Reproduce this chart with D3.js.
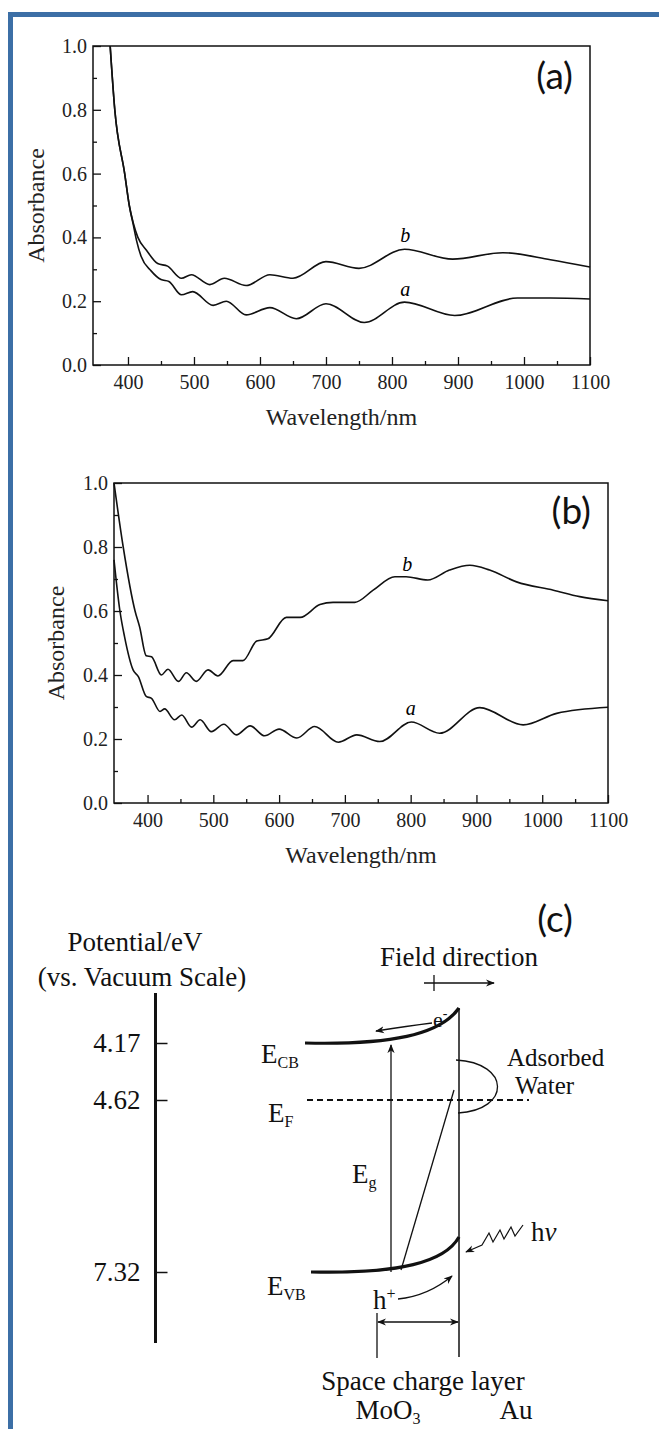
<!DOCTYPE html>
<html>
<head>
<meta charset="utf-8">
<script src="https://cdn.jsdelivr.net/npm/d3@7"></script>
<style>
  body { margin: 0; background: #fff; }
  svg { display: block; }
  text { font-family: "Liberation Serif", "DejaVu Serif", serif; }
</style>
</head>
<body>
<div id="chart"></div>
<script>
// absorbance spectra, [wavelength nm, absorbance]
var aFilmA = [[373,1.0],[380,0.8],[395,0.6],[402,0.5],[408,0.44],[413,0.39],[420,0.34],[435,0.295],[450,0.268],[462,0.262],[481,0.22],[498,0.23],[529,0.187],[549,0.2],[579,0.157],[615,0.18],[655,0.145],[700,0.192],[758,0.133],[819,0.197],[895,0.155],[990,0.21],[1040,0.21],[1100,0.207]];
var aFilmB = [[373,1.0],[380,0.8],[395,0.6],[402,0.5],[408,0.445],[415,0.4],[428,0.36],[445,0.318],[460,0.31],[481,0.272],[496,0.283],[524,0.252],[546,0.272],[579,0.249],[615,0.283],[650,0.272],[700,0.324],[750,0.303],[819,0.363],[892,0.332],[968,0.352],[1040,0.33],[1100,0.307]];

var bFilmA = [[349,0.76],[358,0.6],[365,0.52],[378,0.416],[386,0.395],[398,0.333],[406,0.327],[419,0.286],[426,0.294],[441,0.26],[452,0.275],[467,0.237],[480,0.26],[497,0.223],[516,0.246],[535,0.213],[556,0.241],[578,0.21],[600,0.231],[627,0.203],[654,0.239],[690,0.19],[718,0.213],[753,0.192],[801,0.253],[844,0.218],[905,0.298],[971,0.244],[1022,0.28],[1100,0.299]];
var bFilmB = [[349,1.0],[363,0.8],[381,0.6],[388,0.55],[398,0.46],[406,0.457],[421,0.4],[431,0.418],[447,0.38],[459,0.407],[474,0.38],[492,0.416],[507,0.397],[530,0.445],[545,0.445],[566,0.506],[583,0.513],[611,0.58],[632,0.58],[662,0.62],[682,0.627],[715,0.627],[743,0.665],[776,0.707],[793,0.707],[826,0.697],[859,0.728],[890,0.743],[920,0.728],[961,0.691],[1017,0.665],[1057,0.645],[1100,0.632]];

var wlTicks = [400, 500, 600, 700, 800, 900, 1000, 1100];
var wlMinor = [450, 550, 650, 750, 850, 950, 1050];
var absTicks = [0, 0.2, 0.4, 0.6, 0.8, 1.0];
var absMinor = [0.1, 0.3, 0.5, 0.7, 0.9];

// potential levels of the band diagram (eV vs vacuum)
var levels = [4.17, 4.62, 7.32];

var W = 659, H = 1429;
var serif = "'Liberation Serif', 'DejaVu Serif', serif";
var sans = "Lato, 'Open Sans', sans-serif";

var svg = d3.select("#chart").append("svg")
  .attr("width", W).attr("height", H);

svg.append("rect").attr("width", W).attr("height", H).attr("fill", "#fff");

// blue frame (top and left)
svg.append("rect").attr("x", 8).attr("y", 12).attr("width", W - 8).attr("height", 5).attr("fill", "#3c6fa6");
svg.append("rect").attr("x", 8).attr("y", 12).attr("width", 5).attr("height", H - 12).attr("fill", "#3c6fa6");

var defs = svg.append("defs");
defs.append("marker")
  .attr("id", "head")
  .attr("viewBox", "0 0 10 10")
  .attr("refX", 9).attr("refY", 5)
  .attr("markerWidth", 9).attr("markerHeight", 9)
  .attr("markerUnits", "userSpaceOnUse")
  .attr("orient", "auto-start-reverse")
  .append("path").attr("d", "M0,1 L10,5 L0,9 L3,5 Z").attr("fill", "#111");

function spectrum(opt) {
  var x = d3.scaleLinear().domain(opt.xDomain).range(opt.xRange);
  var y = d3.scaleLinear().domain([0, 1]).range(opt.yRange);
  var g = svg.append("g");

  // frame
  g.append("rect")
    .attr("x", opt.xRange[0]).attr("y", opt.yRange[1])
    .attr("width", opt.xRange[1] - opt.xRange[0])
    .attr("height", opt.yRange[0] - opt.yRange[1])
    .attr("fill", "none").attr("stroke", "#111").attr("stroke-width", 1.5);

  // y axis, ticks pointing in
  g.append("g")
    .attr("transform", "translate(" + opt.xRange[0] + ",0)")
    .call(d3.axisLeft(y).tickValues(absTicks).tickSize(-8).tickPadding(6).tickFormat(d3.format(".1f")));
  g.append("g")
    .attr("transform", "translate(" + opt.xRange[0] + ",0)")
    .call(d3.axisLeft(y).tickValues(absMinor).tickSize(-4).tickFormat(""));

  // x axis
  g.append("g")
    .attr("transform", "translate(0," + opt.yRange[0] + ")")
    .call(d3.axisBottom(x).tickValues(wlTicks).tickSize(-8).tickPadding(10).tickFormat(d3.format("d")));
  g.append("g")
    .attr("transform", "translate(0," + opt.yRange[0] + ")")
    .call(d3.axisBottom(x).tickValues(wlMinor).tickSize(-4).tickFormat(""));

  g.selectAll(".domain").remove();
  g.selectAll(".tick line").attr("stroke", "#111").attr("stroke-width", 1.3);
  g.selectAll(".tick text")
    .attr("fill", "#222")
    .style("font-family", serif)
    .style("font-size", "20px");

  // axis titles
  g.append("text")
    .attr("x", (opt.xRange[0] + opt.xRange[1]) / 2)
    .attr("y", opt.yRange[0] + 60)
    .attr("text-anchor", "middle")
    .style("font-family", serif)
    .style("font-size", "24px")
    .attr("fill", "#222")
    .text("Wavelength/nm");

  g.append("text")
    .attr("transform", "translate(" + opt.titleX + "," + ((opt.yRange[0] + opt.yRange[1]) / 2) + ")rotate(-90)")
    .attr("text-anchor", "middle")
    .style("font-family", serif)
    .style("font-size", "24px")
    .attr("fill", "#222")
    .text("Absorbance");

  var line = d3.line()
    .x(function(d) { return x(d[0]); })
    .y(function(d) { return y(d[1]); })
    .curve(d3.curveMonotoneX);

  [opt.curveA, opt.curveB].forEach(function(cv) {
    g.append("path")
      .datum(cv)
      .attr("d", line)
      .attr("fill", "none")
      .attr("stroke", "#111")
      .attr("stroke-width", 1.6);
  });

  // curve names
  g.append("text").attr("x", x(opt.labelA[0])).attr("y", y(opt.labelA[1]))
    .attr("text-anchor", "middle").style("font-family", serif).style("font-style", "italic").style("font-size", "20px").text("a");
  g.append("text").attr("x", x(opt.labelB[0])).attr("y", y(opt.labelB[1]))
    .attr("text-anchor", "middle").style("font-family", serif).style("font-style", "italic").style("font-size", "20px").text("b");

  // panel letter
  svg.append("text")
    .attr("x", opt.xRange[1] - 17).attr("y", opt.letterY)
    .attr("text-anchor", "end")
    .style("font-family", sans)
    .style("font-size", "37px")
    .attr("fill", "#111")
    .text(opt.letter);
}

spectrum({
  xDomain: [347, 1100], xRange: [93, 590], yRange: [365, 46],
  curveA: aFilmA, curveB: aFilmB,
  labelA: [820, 0.215], labelB: [820, 0.385],
  titleX: 44, letter: "(a)", letterY: 89
});

spectrum({
  xDomain: [349, 1100], xRange: [114, 608], yRange: [803, 483],
  curveA: bFilmA, curveB: bFilmB,
  labelA: [800, 0.275], labelB: [795, 0.725],
  titleX: 64, letter: "(b)", letterY: 524
});

// ---------- (c) band diagram ----------
var c = svg.append("g").attr("fill", "#111").style("font-family", serif).style("font-size", "27px");
var ey = d3.scaleLinear().domain(levels).range([1043, 1100, 1272]);
var axisX = 155.5, iface = 459;

svg.append("text")
  .attr("x", 573).attr("y", 932).attr("text-anchor", "end")
  .style("font-family", sans)
  .style("font-size", "37px").attr("fill", "#111")
  .text("(c)");

c.append("text").attr("x", 135).attr("y", 951).attr("text-anchor", "middle").text("Potential/eV");
c.append("text").attr("x", 142).attr("y", 986).attr("text-anchor", "middle").text("(vs. Vacuum Scale)");

c.append("line").attr("x1", axisX).attr("x2", axisX).attr("y1", 993).attr("y2", 1343)
  .attr("stroke", "#111").attr("stroke-width", 3);
c.append("g")
  .attr("transform", "translate(" + (axisX + 1) + ",0)")
  .call(d3.axisLeft(ey).tickValues(levels).tickSize(-11).tickPadding(16).tickFormat(d3.format(".2f")))
  .call(function(a) {
    a.select(".domain").remove();
    a.selectAll(".tick line").attr("stroke", "#111").attr("stroke-width", 1.5);
    a.selectAll(".tick text").attr("fill", "#111")
      .style("font-family", serif).style("font-size", "27px");
  });

// field direction
c.append("text").attr("x", 459).attr("y", 966).attr("text-anchor", "middle").text("Field direction");
c.append("line").attr("x1", 424).attr("x2", 494).attr("y1", 983).attr("y2", 983)
  .attr("stroke", "#111").attr("stroke-width", 1.3).attr("marker-end", "url(#head)");
c.append("line").attr("x1", 434).attr("x2", 434).attr("y1", 975).attr("y2", 991)
  .attr("stroke", "#111").attr("stroke-width", 1.3);

// bands
var cb = ey(4.17), vb = ey(7.32), ef = ey(4.62);
c.append("path")
  .attr("d", "M305," + cb + " C390," + (cb + 2) + " 440," + (cb - 8) + " " + iface + "," + (cb - 35))
  .attr("fill", "none").attr("stroke", "#111").attr("stroke-width", 3.2);
c.append("path")
  .attr("d", "M311," + vb + " C400," + (vb + 2) + " 445," + (vb - 10) + " " + iface + "," + (vb - 35))
  .attr("fill", "none").attr("stroke", "#111").attr("stroke-width", 3.2);

// interface
c.append("line").attr("x1", iface).attr("x2", iface).attr("y1", cb - 35).attr("y2", 1357)
  .attr("stroke", "#111").attr("stroke-width", 1.5);

// fermi level
c.append("line").attr("x1", 307).attr("x2", 529).attr("y1", ef).attr("y2", ef)
  .attr("stroke", "#111").attr("stroke-width", 2).attr("stroke-dasharray", "6,4");

// band gap arrow and excitation line
c.append("line").attr("x1", 391).attr("x2", 391).attr("y1", vb).attr("y2", cb + 2)
  .attr("stroke", "#111").attr("stroke-width", 1.3).attr("marker-end", "url(#head)");
c.append("line").attr("x1", 401).attr("x2", 454).attr("y1", vb - 2).attr("y2", ef - 10)
  .attr("stroke", "#111").attr("stroke-width", 1.3);

// electron drift
c.append("path").attr("d", "M432,1023 Q408,1026 376,1031")
  .attr("fill", "none").attr("stroke", "#111").attr("stroke-width", 1.3).attr("marker-end", "url(#head)");
c.append("text").attr("x", 433).attr("y", 1027).style("font-size", "22px").text("e")
  .append("tspan").attr("dy", -9).style("font-size", "14px").text("-");

// adsorbed water
c.append("path").attr("d", "M456,1060 C511,1063 511,1110 458,1113")
  .attr("fill", "none").attr("stroke", "#111").attr("stroke-width", 1.3);
c.append("text").attr("x", 507).attr("y", 1066).style("font-size", "25px").text("Adsorbed");
c.append("text").attr("x", 515).attr("y", 1094).style("font-size", "25px").text("Water");

// level names
function level(xp, yp, sub) {
  var t = c.append("text").attr("x", xp).attr("y", yp).text("E");
  t.append("tspan").attr("dy", 5).style("font-size", "16px").text(sub);
}
level(261, 1063, "CB");
level(268, 1122, "F");
level(352, 1183, "g");
level(267, 1295, "VB");

// light
c.append("path").attr("d", "M523,1225 L515,1236 L511,1227 L504,1239 L500,1230 L493,1242 L489,1233 L482,1245 L466,1252")
  .attr("fill", "none").attr("stroke", "#111").attr("stroke-width", 1.2).attr("marker-end", "url(#head)");
var hv = c.append("text").attr("x", 531).attr("y", 1241).text("h");
hv.append("tspan").style("font-style", "italic").text("\u03bd");

// hole drift
c.append("text").attr("x", 373).attr("y", 1309).text("h")
  .append("tspan").attr("dy", -10).style("font-size", "16px").text("+");
c.append("path").attr("d", "M398,1299 Q428,1296 452,1276")
  .attr("fill", "none").attr("stroke", "#111").attr("stroke-width", 1.3).attr("marker-end", "url(#head)");

// space charge layer
c.append("line").attr("x1", 377).attr("x2", 377).attr("y1", 1313).attr("y2", 1358)
  .attr("stroke", "#111").attr("stroke-width", 1.3);
c.append("line").attr("x1", 378).attr("x2", 458).attr("y1", 1322).attr("y2", 1322)
  .attr("stroke", "#111").attr("stroke-width", 1.3)
  .attr("marker-start", "url(#head)").attr("marker-end", "url(#head)");
c.append("text").attr("x", 423).attr("y", 1390).attr("text-anchor", "middle").text("Space charge layer");
var mo = c.append("text").attr("x", 388).attr("y", 1419).attr("text-anchor", "middle").text("MoO");
mo.append("tspan").attr("dy", 5).style("font-size", "16px").text("3");
c.append("text").attr("x", 516).attr("y", 1419).attr("text-anchor", "middle").text("Au");
</script>
</body>
</html>
